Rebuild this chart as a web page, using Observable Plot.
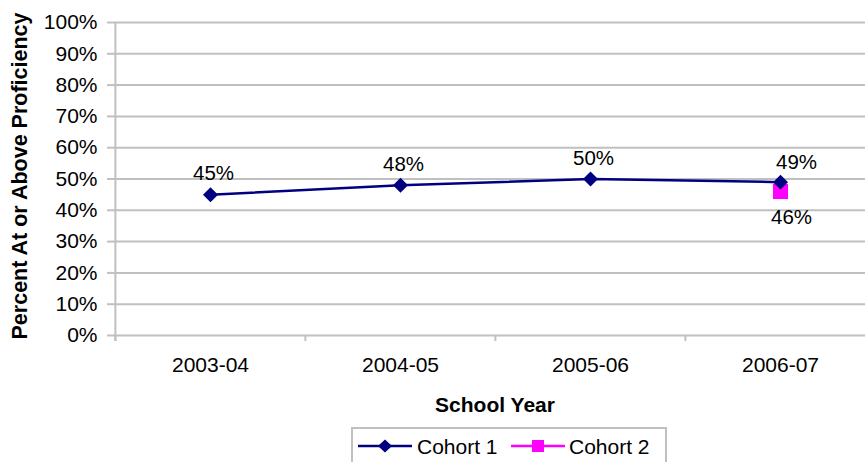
<!DOCTYPE html>
<html>
<head>
<meta charset="utf-8">
<script src="https://cdn.jsdelivr.net/npm/d3@7"></script>
<script src="https://cdn.jsdelivr.net/npm/@observablehq/plot@0.6"></script>
<style>
  body { margin: 0; background: #fff; font-family: "Liberation Sans", Arial, sans-serif; }
  #wrap { position: relative; width: 865px; height: 462px; overflow: hidden; background: #fff; }
  #chart svg { display: block; }
  #legend { position: absolute; left: 351px; top: 427px; width: 316px; height: 60px; box-sizing: border-box;
            border: 2px solid #c0c0c0; background: #fff; }
  #legend .sw { position: absolute; top: 9px; }
  #legend .lab { position: absolute; top: 7px; font-size: 21px; line-height: 21px; color: #000; white-space: nowrap; }
</style>
</head>
<body>
<div id="wrap">
  <div id="chart"></div>
  <div id="legend">
    <svg class="sw" style="left:5px" width="54" height="16"><line x1="0" x2="54" y1="8" y2="8" stroke="#000080" stroke-width="2.5"/><path d="M27,1.5 L34,8 L27,14.5 L20,8 Z" fill="#000080"/></svg>
    <span class="lab" style="left:64px">Cohort 1</span>
    <svg class="sw" style="left:158px" width="54" height="16"><line x1="0" x2="54" y1="8" y2="8" stroke="#ff00ff" stroke-width="2.5"/><rect x="21" y="2" width="12" height="12" fill="#ff00ff"/></svg>
    <span class="lab" style="left:216px">Cohort 2</span>
  </div>
</div>
<script>
const years = ["2003-04", "2004-05", "2005-06", "2006-07"];
const cohort1 = [0.45, 0.48, 0.50, 0.49];
const cohort2Years = ["2006-07"];
const cohort2 = [0.46];
const yTicks = [0, 0.1, 0.2, 0.3, 0.4, 0.5, 0.6, 0.7, 0.8, 0.9, 1.0];
const yTitle = "Percent At or Above Proficiency";
const xTitle = "School Year";

const c1 = years.map((year, i) => ({year, value: cohort1[i]}));
const c2 = cohort2Years.map((year, i) => ({year, value: cohort2[i]}));

const grid = "#c0c0c0";
const xRange = [114, 875];
const bw = (xRange[1] - xRange[0]) / years.length;
const pct = d3.format(".0%");
const last = years[years.length - 1];

const chart = Plot.plot({
  width: 865,
  height: 425,
  marginLeft: 114,
  marginRight: 0,
  marginTop: 22,
  marginBottom: 90,
  style: {fontFamily: "'Liberation Sans', Arial, sans-serif", fontSize: "21px", color: "#000", background: "#fff"},
  x: {type: "band", domain: years, range: xRange, padding: 0},
  y: {domain: [0, 1], range: [335, 22]},
  marks: [
    Plot.gridY({ticks: yTicks, stroke: grid, strokeOpacity: 1, strokeWidth: 2}),
    Plot.axisY({ticks: yTicks, tickSize: 7, tickPadding: 10, tickFormat: pct, stroke: grid, strokeOpacity: 1, strokeWidth: 2, fill: "#000", fontSize: 21, label: null}),
    Plot.axisX({tickSize: 0, tickPadding: 22, fontSize: 21, fill: "#000", label: null}),
    // y axis line
    Plot.ruleX([years[0]], {x: d => d, y1: 0, y2: 1, insetTop: 6, dx: -bw / 2, stroke: grid, strokeWidth: 2}),
    // category boundary ticks
    Plot.ruleX(years, {x: d => d, y1: 0, y2: 0, insetTop: 6, dx: -bw / 2, stroke: grid, strokeWidth: 2}),
    Plot.ruleX([last], {x: d => d, y1: 0, y2: 0, insetTop: 6, dx: bw / 2, stroke: grid, strokeWidth: 2}),
    // Cohort 2
    Plot.dot(c2, {x: "year", y: "value", symbol: "square", r: 8.5, fill: "#ff00ff", stroke: null}),
    // Cohort 1
    Plot.line(c1, {x: "year", y: "value", stroke: "#000080", strokeWidth: 2.5}),
    Plot.dot(c1, {x: "year", y: "value", symbol: "diamond2", r: 6.75, fill: "#000080", stroke: null}),
    // data labels
    Plot.text(c1.filter(d => d.year !== last), {x: "year", y: "value", text: d => pct(d.value), dy: -21, dx: 3, fontSize: 20.5, fill: "#000"}),
    Plot.text(c1.filter(d => d.year === last), {x: "year", y: "value", text: d => pct(d.value), dy: -20, dx: 16, fontSize: 20.5, fill: "#000"}),
    Plot.text(c2, {x: "year", y: "value", text: d => pct(d.value), dy: 26, dx: 11, fontSize: 20.5, fill: "#000"}),
    // axis titles
    Plot.text([yTitle], {text: d => d, frameAnchor: "left", rotate: -90, dx: -94, dy: -3, textAnchor: "middle", lineAnchor: "middle", fontWeight: "bold", fontSize: 21.5, fill: "#000"}),
    Plot.text([xTitle], {text: d => d, frameAnchor: "bottom", dx: 5, dy: 70, textAnchor: "middle", lineAnchor: "middle", fontWeight: "bold", fontSize: 21, fill: "#000"})
  ]
});
document.getElementById("chart").appendChild(chart);
</script>
</body>
</html>
